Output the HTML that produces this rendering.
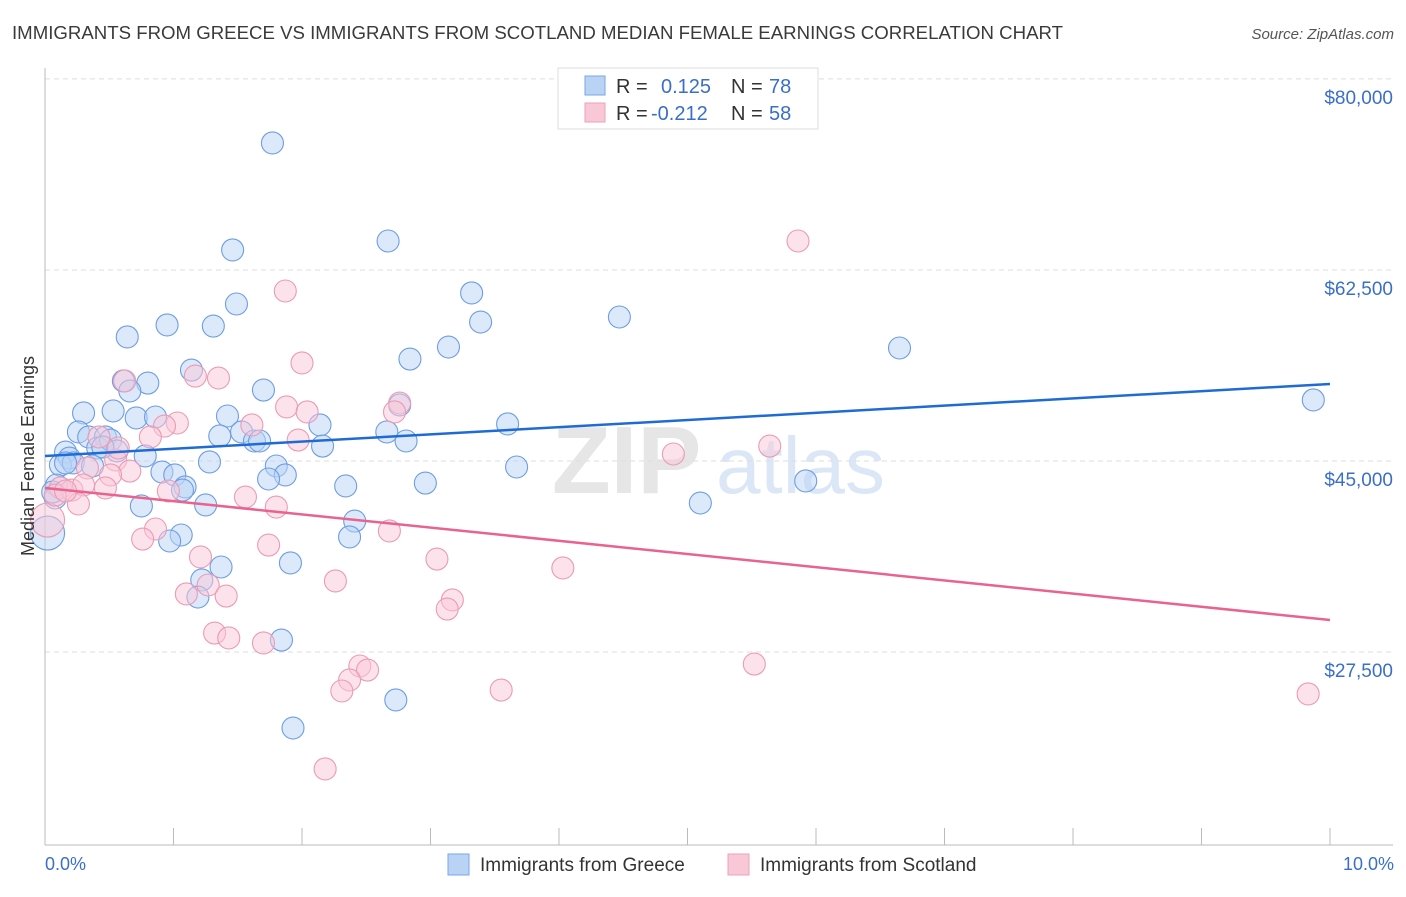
<!DOCTYPE html>
<html><head><meta charset="utf-8">
<style>
body{margin:0;background:#fff;font-family:"Liberation Sans",sans-serif;}
svg text{font-family:"Liberation Sans",sans-serif;}
</style></head>
<body>
<svg id="chart" width="1406" height="892" xmlns="http://www.w3.org/2000/svg">
<text x="12" y="39" font-size="18" fill="#3a3a3a" textLength="1051" lengthAdjust="spacingAndGlyphs">IMMIGRANTS FROM GREECE VS IMMIGRANTS FROM SCOTLAND MEDIAN FEMALE EARNINGS CORRELATION CHART</text>
<text x="1394" y="39" font-size="15" fill="#555" text-anchor="end" font-style="italic">Source: ZipAtlas.com</text>
<g>
<text x="552" y="493" font-size="96" fill="#e6e6e6" font-family="Liberation Serif" font-weight="bold">ZIP</text>
<text x="716" y="493" font-size="80" fill="#dbe7f6">atlas</text>
</g>
<g id="grid"></g>
<g id="axes"></g>
<g id="pts"></g>
<g id="trends"></g>
<text transform="translate(34,456) rotate(-90)" font-size="18" fill="#333" text-anchor="middle">Median Female Earnings</text>
<text x="45" y="870" font-size="18" fill="#3a6fc9">0.0%</text>
<text x="1394" y="870" font-size="18" fill="#3a6fc9" text-anchor="end">10.0%</text>
<g>
<rect x="558" y="68" width="260" height="61" fill="#fff" stroke="#ddd"/>
<rect x="585" y="76" width="20" height="19" fill="#b9d3f5" stroke="#7aa6e6"/>
<rect x="585" y="103" width="20" height="19" fill="#f9c8d7" stroke="#eea0b8"/>
<text x="616" y="93" font-size="20" fill="#333">R =</text>
<text x="661" y="93" font-size="20" fill="#3a6fc9">0.125</text>
<text x="731" y="93" font-size="20" fill="#333">N =</text>
<text x="769" y="93" font-size="20" fill="#3a6fc9">78</text>
<text x="616" y="120" font-size="20" fill="#333">R =</text>
<text x="651" y="120" font-size="20" fill="#3a6fc9">-0.212</text>
<text x="731" y="120" font-size="20" fill="#333">N =</text>
<text x="769" y="120" font-size="20" fill="#3a6fc9">58</text>
</g>
<g>
<rect x="448" y="854" width="21" height="21" fill="#b9d3f5" stroke="#7aa6e6"/>
<text x="480" y="871" font-size="19" fill="#333">Immigrants from Greece</text>
<rect x="728" y="854" width="21" height="21" fill="#f9c8d7" stroke="#eea0b8"/>
<text x="760" y="871" font-size="19" fill="#333">Immigrants from Scotland</text>
</g>
</svg>
<script>
const yTicks=[80000,62500,45000,27500];
const yTickLabels=["$80,000","$62,500","$45,000","$27,500"];
const greeceX=[1.77,1.46,2.67,1.49,0.95,1.31,0.64,3.32,3.39,4.47,3.14,2.84,6.65,9.87,1.14,0.61,0.80,0.66,1.70,0.30,0.53,0.71,0.86,1.42,2.14,2.76,3.60,0.26,0.34,0.47,1.36,1.53,1.63,1.67,2.66,2.81,2.16,0.16,0.41,0.51,0.56,0.78,0.19,0.12,0.22,0.37,1.28,0.91,1.01,1.80,1.87,1.74,1.09,1.07,3.67,2.96,2.34,5.92,0.09,0.08,0.75,1.25,5.10,2.41,2.37,1.06,0.97,1.91,1.37,1.22,1.19,1.84,2.73,1.93,0.02,0.06,0.45,0.16];
const greeceY=[75780,65980,66800,61030,59110,59010,58010,62040,59380,59840,57090,55990,57000,52240,54980,53980,53790,53060,53150,51050,51230,50590,50680,50770,49950,51780,50040,49310,48850,48850,48940,49310,48480,48480,49310,48480,48020,47470,47840,48570,47570,47110,46920,46280,46470,46190,46560,45640,45370,46190,45370,45000,44270,43990,46100,44630,44360,44820,44450,43260,42530,42620,42800,41150,39690,39870,39320,37310,36940,35750,34190,30250,24760,22190,40050,43810,47930,46470];
const scotX=[5.86,1.87,2.00,1.17,1.35,0.62,2.76,2.72,1.88,2.04,1.03,0.93,1.61,0.82,1.97,0.42,4.89,5.64,0.55,0.66,0.51,0.33,0.12,0.21,0.30,0.47,0.96,1.56,0.26,1.80,0.86,0.76,2.68,1.74,1.21,3.05,4.03,2.26,1.27,1.10,1.41,3.17,3.13,1.32,1.43,1.70,2.45,2.51,5.52,2.37,2.31,3.55,9.83,2.18,0.02,0.08,0.16,0.57];
const scotY=[66800,62220,55630,54430,54250,53980,51960,51140,51600,51140,50130,49850,49950,48850,48570,48850,47290,48020,46740,45730,45370,46010,44180,43990,44450,44180,43900,43350,42710,42430,40420,39500,40240,38950,37860,37670,36850,35660,35290,34470,34280,33920,33090,30890,30440,29980,27870,27500,28050,26590,25580,25670,25310,18440,41240,43530,43900,47840];
const greeceTrend=[47107,53702];
const scotTrend=[44176,32084];
const NS="http://www.w3.org/2000/svg";
const xs=v=>45+v*128.5;
const ys=v=>479-(v-45000)/91.6;
function mk(tag,attrs,parent){const e=document.createElementNS(NS,tag);for(const k in attrs)e.setAttribute(k,attrs[k]);parent.appendChild(e);return e;}
const grid=document.getElementById('grid'),axes=document.getElementById('axes'),pts=document.getElementById('pts'),tr=document.getElementById('trends');
yTicks.forEach((t,i)=>{
  const g=mk('line',{x1:45,x2:1393,y1:ys(t)-18,y2:ys(t)-18,stroke:'#ddd','stroke-dasharray':'5,4'},grid);
  
  
  const l=mk('text',{x:1393,y:ys(t)+7,'font-size':19,fill:'#3a6fc9','text-anchor':'end'},grid);
  l.textContent=yTickLabels[i];
  
  
});
const ax=mk('line',{x1:45,x2:45,y1:68,y2:845,stroke:'#bbb'},axes);


const bx=mk('line',{x1:45,x2:1393,y1:845,y2:845,stroke:'#bbb'},axes);


for(let k=1;k<=10;k++){
  const t=mk('line',{x1:xs(k),x2:xs(k),y1:828,y2:845,stroke:'#bbb'},axes);
  
  
}
function dots(X,Y,fill,stroke,name){
  X.forEach((x,i)=>{
    const r=x<0.05?17:11;
    const c=mk('circle',{cx:xs(x),cy:ys(Y[i]),r:r,fill:fill,'fill-opacity':0.5,stroke:stroke,'stroke-width':1.1},pts);
    
    
  });
}
dots(greeceX,greeceY,'#b9d3f5','#6d9ee3','point-greece');
dots(scotX,scotY,'#f9c8d7','#eb9bb6','point-scotland');
const l1=mk('line',{x1:xs(0),x2:xs(10),y1:ys(greeceTrend[0]),y2:ys(greeceTrend[1]),stroke:'#1f6bd6','stroke-width':2.5},tr);


const l2=mk('line',{x1:xs(0),x2:xs(10),y1:ys(scotTrend[0]),y2:ys(scotTrend[1]),stroke:'#e8638f','stroke-width':2.5},tr);


</script>
</body></html>
